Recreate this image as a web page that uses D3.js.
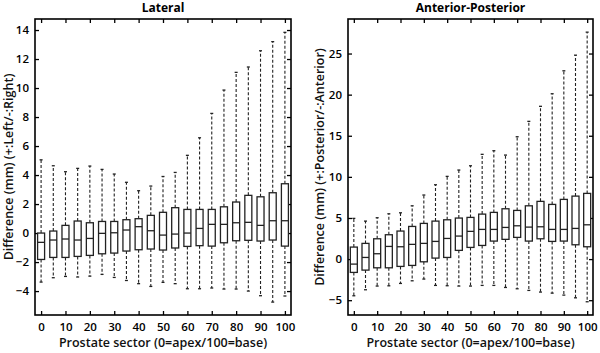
<!DOCTYPE html>
<html>
<head>
<meta charset="utf-8">
<script src="https://cdn.jsdelivr.net/npm/d3@7"></script>
<style>
  body { margin: 0; background: #fff; }
  svg { display: block; font-family: "Open Sans", sans-serif; }
</style>
</head>
<body>
<svg id="chart" width="600" height="353"></svg>
<script>
const sectors = [0, 5, 10, 15, 20, 25, 30, 35, 40, 45, 50, 55, 60, 65, 70, 75, 80, 85, 90, 95, 100];
const xTicks = [0, 10, 20, 30, 40, 50, 60, 70, 80, 90, 100];

// Lateral
const latHigh = [5.05, 4.64, 4.23, 4.46, 4.62, 4.39, 4.07, 3.5, 2.92, 3.24, 3.9, 4.18, 5.36, 6.57, 8.25, 9.86, 11.08, 11.45, 12.57, 13.2, 13.84];
const latQ3 = [0.0, 0.14, 0.53, 0.83, 0.71, 0.8, 0.8, 0.92, 0.99, 1.22, 1.43, 1.75, 1.63, 1.63, 1.63, 1.81, 2.14, 2.6, 2.5, 2.78, 3.4];
const latMed = [-0.64, -0.48, -0.41, -0.48, -0.37, -0.02, 0.02, 0.21, 0.44, 0.16, -0.14, -0.07, 0.0, 0.32, 0.6, 0.6, 0.71, 0.74, 0.53, 0.85, 0.85];
const latQ1 = [-1.82, -1.68, -1.68, -1.61, -1.54, -1.43, -1.38, -1.24, -1.15, -1.1, -1.17, -1.03, -0.92, -0.87, -0.9, -0.67, -0.53, -0.5, -0.55, -0.48, -0.9];
const latLow = [-3.38, -3.08, -2.99, -3.03, -2.97, -2.85, -3.06, -3.27, -3.49, -3.68, -3.4, -3.49, -3.84, -3.84, -3.79, -3.86, -3.86, -4.0, -4.32, -4.76, -4.34];

// Anterior-Posterior
const apHigh = [4.95, 4.62, 5.03, 5.51, 5.63, 6.48, 7.79, 9.04, 10.06, 10.83, 11.35, 12.74, 13.18, 12.65, 14.88, 16.75, 18.58, 20.11, 22.9, 24.8, 27.6];
const apQ3 = [1.46, 1.91, 2.47, 2.96, 3.41, 3.97, 4.34, 4.62, 4.78, 4.99, 5.07, 5.47, 5.68, 6.12, 5.92, 6.48, 7.02, 6.65, 7.26, 7.66, 7.99];
const apMed = [-0.61, 0.2, 0.65, 1.54, 1.5, 1.79, 1.91, 2.15, 2.51, 2.8, 3.37, 3.61, 3.61, 3.85, 4.05, 3.89, 3.93, 3.61, 3.61, 3.73, 4.17];
const apQ1 = [-1.62, -1.34, -1.06, -1.06, -0.89, -0.77, -0.33, 0.12, 0.2, 1.06, 1.42, 1.66, 2.19, 2.4, 2.64, 2.19, 2.47, 2.15, 2.19, 1.74, 1.5];
const apLow = [-4.46, -3.73, -3.28, -3.25, -2.96, -2.64, -2.43, -3.2, -3.24, -3.28, -3.28, -3.2, -3.2, -3.45, -3.61, -3.81, -4.01, -4.14, -4.38, -4.71, -5.19];

const panels = [
  {
    title: "Lateral",
    yLabel: "Difference (mm) (+:Left/-:Right)",
    left: 35, right: 291, top: 19, bottom: 315,
    yDomain: [-5.65, 14.76], yTicks: [-4, -2, 0, 2, 4, 6, 8, 10, 12, 14],
    yLabelX: 9,
    high: latHigh, q3: latQ3, med: latMed, q1: latQ1, low: latLow,
  },
  {
    title: "Anterior-Posterior",
    yLabel: "Difference (mm) (+:Posterior/-:Anterior)",
    left: 348, right: 593, top: 19, bottom: 315,
    yDomain: [-6.8, 29.2], yTicks: [-5, 0, 5, 10, 15, 20, 25],
    yLabelX: 320,
    high: apHigh, q3: apQ3, med: apMed, q1: apQ1, low: apLow,
  },
];

const svg = d3.select("#chart");

panels.forEach((p) => {
  const x = d3.scaleLinear().domain([-2.5, 102.5]).range([p.left, p.right]);
  const y = d3.scaleLinear().domain(p.yDomain).range([p.bottom, p.top]);
  const g = svg.append("g");

  // ── axes (inward ticks on all four sides) ──
  const styleAxis = (sel) => {
    sel.select(".domain").remove();
    sel.selectAll(".tick line").attr("stroke", "#000").attr("stroke-width", 1.3);
  };

  g.append("g")
    .attr("transform", `translate(0,${p.bottom})`)
    .call(d3.axisBottom(x).tickValues(xTicks).tickSize(-4).tickPadding(8))
    .call(styleAxis)
    .selectAll("text")
    .attr("font-size", 11.5).attr("font-weight", 600).attr("fill", "#000")
    .attr("font-family", "'Open Sans', sans-serif");

  g.append("g")
    .attr("transform", `translate(0,${p.top})`)
    .call(d3.axisTop(x).tickValues(xTicks).tickSize(-4).tickFormat(""))
    .call(styleAxis);

  g.append("g")
    .attr("transform", `translate(${p.left},0)`)
    .call(d3.axisLeft(y).tickValues(p.yTicks).tickSize(-4).tickPadding(6))
    .call(styleAxis)
    .selectAll("text")
    .attr("font-size", 11.5).attr("font-weight", 600).attr("fill", "#000")
    .attr("font-family", "'Open Sans', sans-serif");

  g.append("g")
    .attr("transform", `translate(${p.right},0)`)
    .call(d3.axisRight(y).tickValues(p.yTicks).tickSize(-4).tickFormat(""))
    .call(styleAxis);

  // frame
  g.append("rect")
    .attr("x", p.left).attr("y", p.top)
    .attr("width", p.right - p.left).attr("height", p.bottom - p.top)
    .attr("fill", "none").attr("stroke", "#000").attr("stroke-width", 1.6);

  // ── boxes ──
  const data = sectors.map((s, i) => ({
    s, high: p.high[i], q3: p.q3[i], med: p.med[i], q1: p.q1[i], low: p.low[i],
  }));
  const bw = 7;
  const box = g.selectAll(".box").data(data).join("g").attr("class", "box");

  // whiskers
  box.append("line")
    .attr("x1", (d) => x(d.s)).attr("x2", (d) => x(d.s))
    .attr("y1", (d) => y(d.q3)).attr("y2", (d) => y(d.high))
    .attr("stroke", "#222").attr("stroke-width", 1.1).attr("stroke-dasharray", "3,2");
  box.append("line")
    .attr("x1", (d) => x(d.s)).attr("x2", (d) => x(d.s))
    .attr("y1", (d) => y(d.q1)).attr("y2", (d) => y(d.low))
    .attr("stroke", "#222").attr("stroke-width", 1.1).attr("stroke-dasharray", "3,2");
  // caps
  box.append("line")
    .attr("x1", (d) => x(d.s) - 1.5).attr("x2", (d) => x(d.s) + 1.5)
    .attr("y1", (d) => y(d.high)).attr("y2", (d) => y(d.high))
    .attr("stroke", "#222").attr("stroke-width", 1.3);
  box.append("line")
    .attr("x1", (d) => x(d.s) - 1.5).attr("x2", (d) => x(d.s) + 1.5)
    .attr("y1", (d) => y(d.low)).attr("y2", (d) => y(d.low))
    .attr("stroke", "#222").attr("stroke-width", 1.3);
  // box body
  box.append("rect")
    .attr("x", (d) => x(d.s) - bw / 2).attr("width", bw)
    .attr("y", (d) => y(d.q3)).attr("height", (d) => y(d.q1) - y(d.q3))
    .attr("fill", "#fff").attr("stroke", "#222").attr("stroke-width", 1.3);
  // median
  box.append("line")
    .attr("x1", (d) => x(d.s) - bw / 2).attr("x2", (d) => x(d.s) + bw / 2)
    .attr("y1", (d) => y(d.med)).attr("y2", (d) => y(d.med))
    .attr("stroke", "#222").attr("stroke-width", 1.3);

  // ── labels ──
  const cx = (p.left + p.right) / 2;
  g.append("text")
    .attr("x", cx).attr("y", 12)
    .attr("text-anchor", "middle")
    .attr("font-size", 12).attr("font-weight", 700).attr("fill", "#000")
    .text(p.title);

  g.append("text")
    .attr("x", cx).attr("y", 347)
    .attr("text-anchor", "middle")
    .attr("font-size", 12.5).attr("font-weight", 600).attr("fill", "#111")
    .text("Prostate sector (0=apex/100=base)");

  g.append("text")
    .attr("transform", `translate(${p.yLabelX},${(p.top + p.bottom) / 2}) rotate(-90)`)
    .attr("dy", "0.35em")
    .attr("text-anchor", "middle")
    .attr("font-size", 12.5).attr("font-weight", 600).attr("fill", "#111")
    .text(p.yLabel);
});
</script>
</body>
</html>
